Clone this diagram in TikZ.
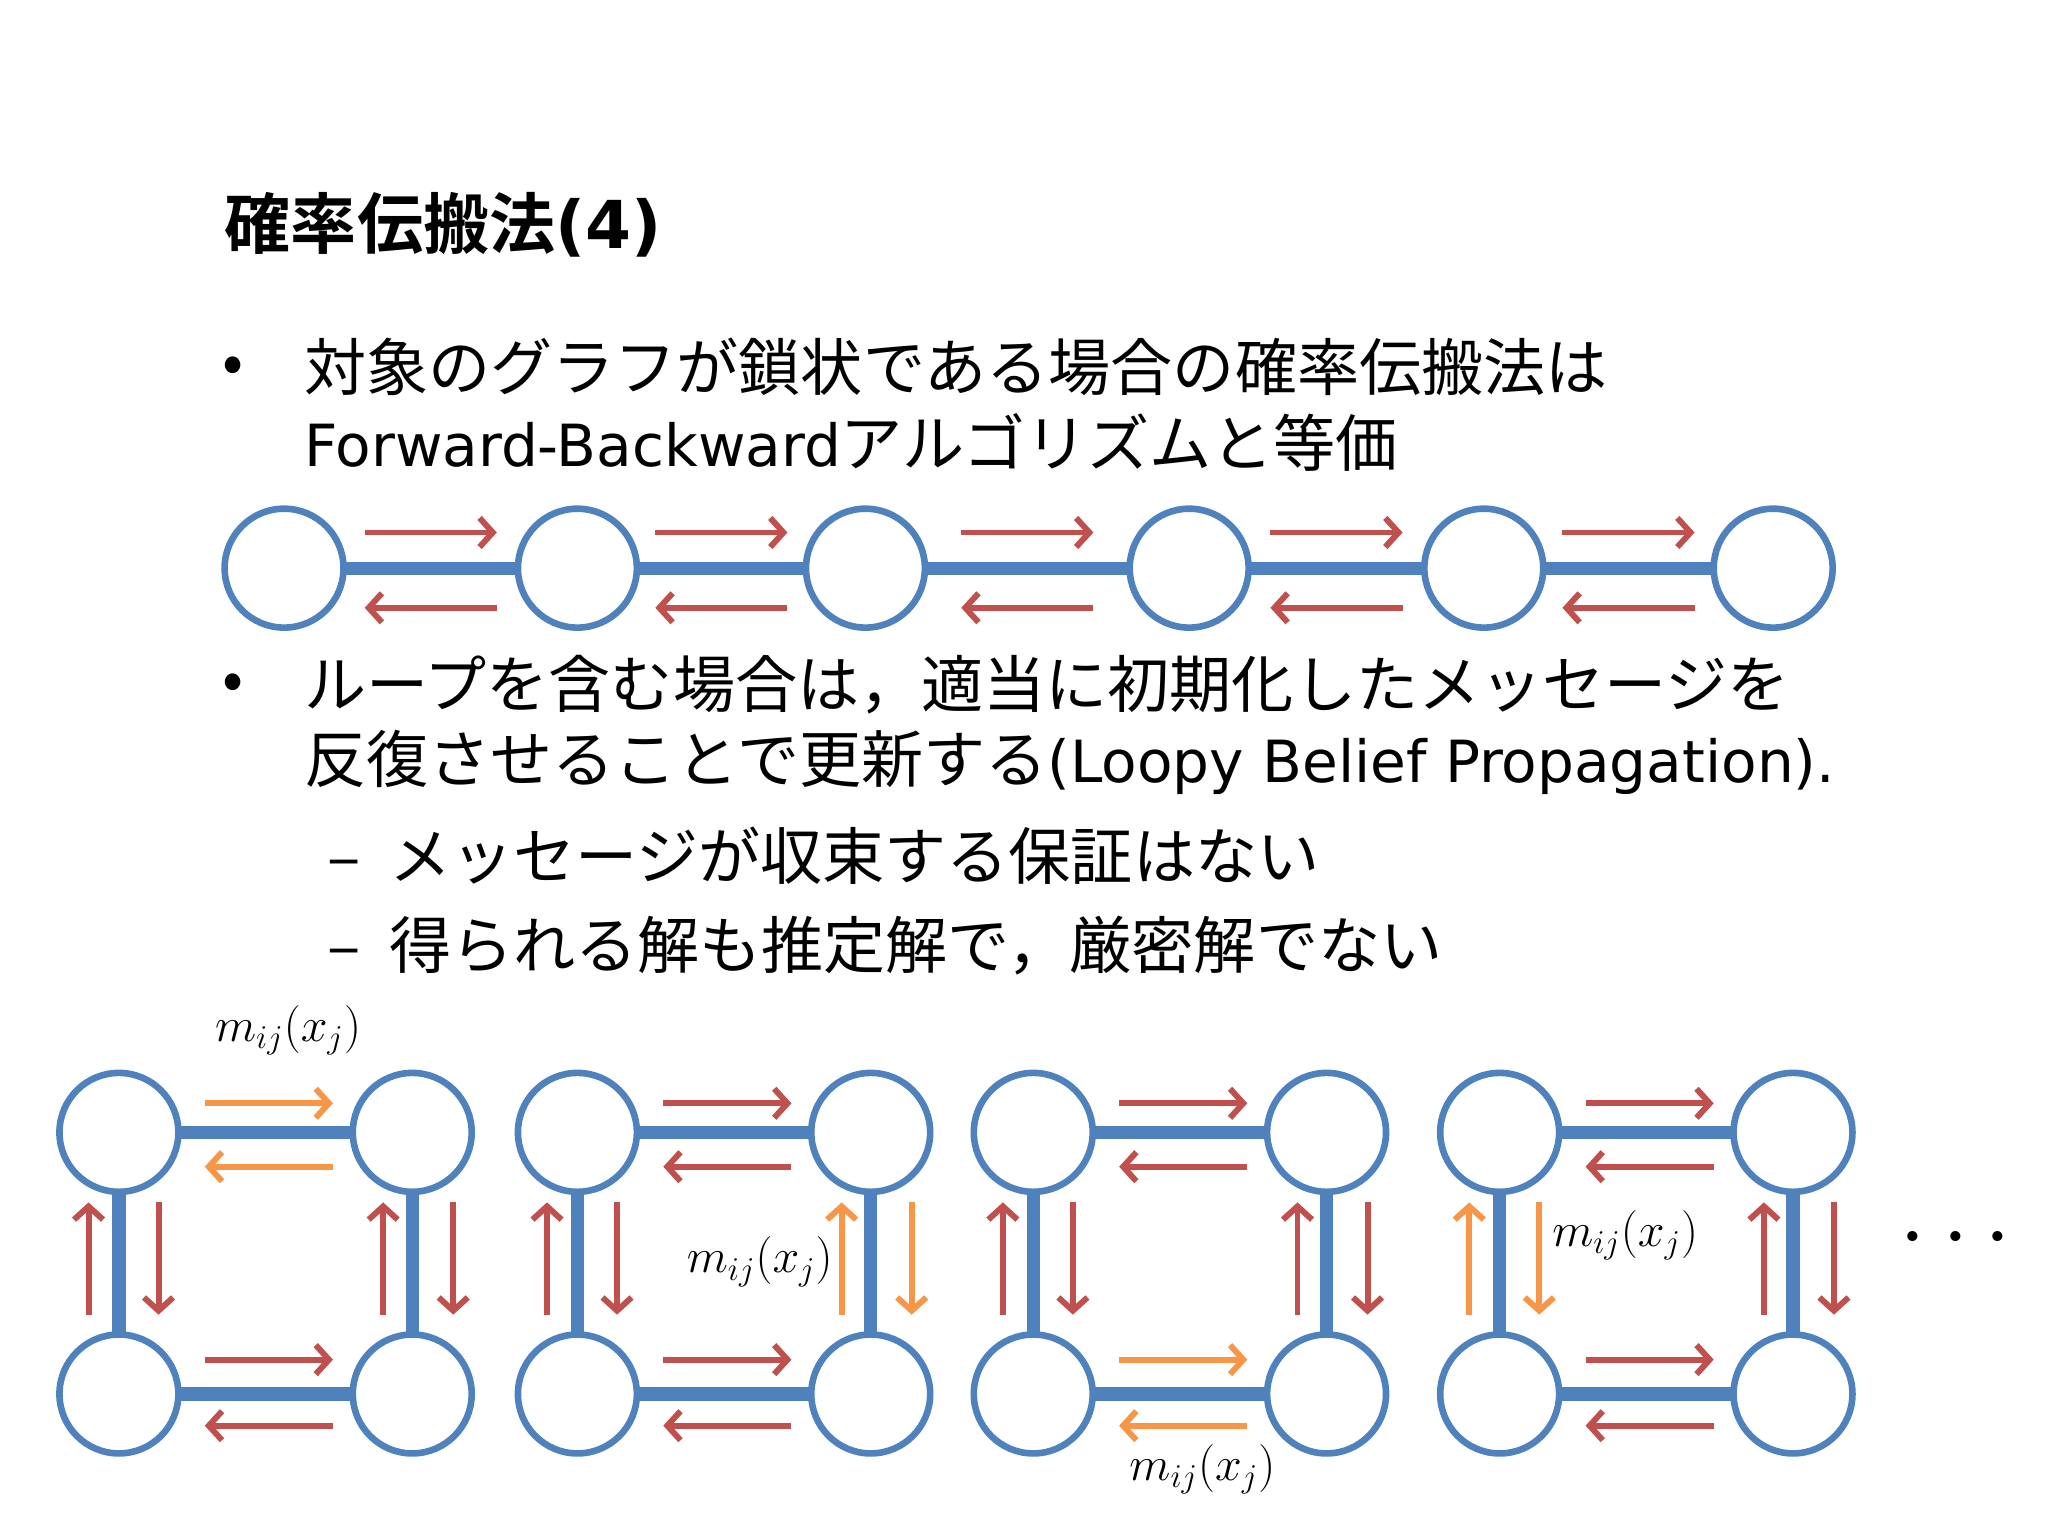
\documentclass[tikz,border=0pt]{standalone}
\usepackage{fontspec}
\setmainfont{Noto Sans CJK JP}
\newfontfamily\jpb{Noto Sans CJK JP Bold}
\newfontfamily\lat{DejaVu Sans}
\usetikzlibrary{arrows.meta}
\definecolor{cblue}{HTML}{4F81BD}
\definecolor{cred}{HTML}{C0504D}
\definecolor{corg}{HTML}{F79646}
\begin{document}
\begin{tikzpicture}[x=1pt,y=-1pt,
  circ/.style={circle,draw=cblue,line width=5pt,minimum size=90pt,inner sep=0pt,fill=white},
  edge/.style={cblue,line width=10pt},
  arr/.style={line width=4.5pt,-{Straight Barb[length=10pt,width=22pt,line width=4.5pt]}},
  txt/.style={anchor=west,inner sep=0pt,font=\fontsize{47}{50}\selectfont},
  lab/.style={inner sep=0pt,font=\fontsize{20}{24}\selectfont,scale=1.75,transform shape}]
\useasboundingbox (0,0) rectangle (1550,1162);
\node[txt,font=\jpb\fontsize{50}{50}\selectfont] (title) at (170,170) {確率伝搬法\lat\bfseries(4)};
\node[txt] (b1) at (168,280) {•};
\node[txt] (l1) at (230,278) {対象のグラフが鎖状である場合の確率伝搬法は};
\node[txt] (l2) at (230,335) {{\lat\fontsize{44}{50}\selectfont Forward-Backward}アルゴリズムと等価};
\node[txt] (b2) at (168,520) {•};
\node[txt] (l3) at (230,518) {ループを含む場合は，適当に初期化したメッセージを};
\node[txt] (l4) at (230,577) {反復させることで更新する{\lat\fontsize{44}{50}\selectfont(Loopy Belief Propagation).}};
\node[txt] (s1) at (248,648) {–\ \ メッセージが収束する保証はない};
\node[txt] (s2) at (248,716) {–\ \ 得られる解も推定解で，厳密解でない};
% chain
\foreach \i/\x in {1/215,2/437,3/655,4/900,5/1123,6/1342}{\coordinate (p\i) at (\x,430);}
\foreach \a/\b in {1/2,2/3,3/4,4/5,5/6}{
  \draw[edge] (p\a)--(p\b);
  \path (p\a) -- (p\b) coordinate[pos=0.5] (m\a);
  \draw[arr,cred] ([shift={(-50,-27)}]m\a) -- ([shift={(50,-27)}]m\a);
  \draw[arr,cred] ([shift={(50,30)}]m\a) -- ([shift={(-50,30)}]m\a);
}
\foreach \i in {1,...,6}{\node[circ] (c\i) at (p\i) {};}
% loops
\foreach \k/\ox/\ct/\cb/\cl/\cr in {1/90/corg/cred/cred/cred,2/437/cred/cred/cred/corg,3/782/cred/corg/cred/cred,4/1135/cred/cred/corg/cred}{
  \begin{scope}[shift={(\ox,857)}]
  \coordinate (q\k a) at (0,0); \coordinate (q\k b) at (222,0);
  \coordinate (q\k c) at (0,198); \coordinate (q\k d) at (222,198);
  \draw[edge] (q\k a)--(q\k b)--(q\k d)--(q\k c)--cycle;
  \draw[arr,\ct] (65,-22) -- (162,-22);
  \draw[arr,\ct] (162,26) -- (65,26);
  \draw[arr,\cb] (65,-26) ++(0,198) -- ++(97,0);
  \draw[arr,\cb] (162,222) -- (65,222);
  \draw[arr,\cl] (-23,138) -- (-23,53);
  \draw[arr,\cl] (30,53) -- (30,138);
  \draw[arr,\cr] (200,138) -- (200,53);
  \draw[arr,\cr] (253,53) -- (253,138);
  \foreach \n in {a,b,c,d}{\node[circ] (n\k\n) at (q\k\n) {};}
  \end{scope}
}
\node[lab] (m1) at (218,780) {$m_{ij}(x_j)$};
\node[lab] (m2) at (575,955) {$m_{ij}(x_j)$};
\node[lab] (m3) at (910,1112) {$m_{ij}(x_j)$};
\node[lab] (m4) at (1230,935) {$m_{ij}(x_j)$};
\node[lab,scale=2.0] (dots) at (1480,938) {$\mathbf{\cdots}$};
\end{tikzpicture}
\end{document}
